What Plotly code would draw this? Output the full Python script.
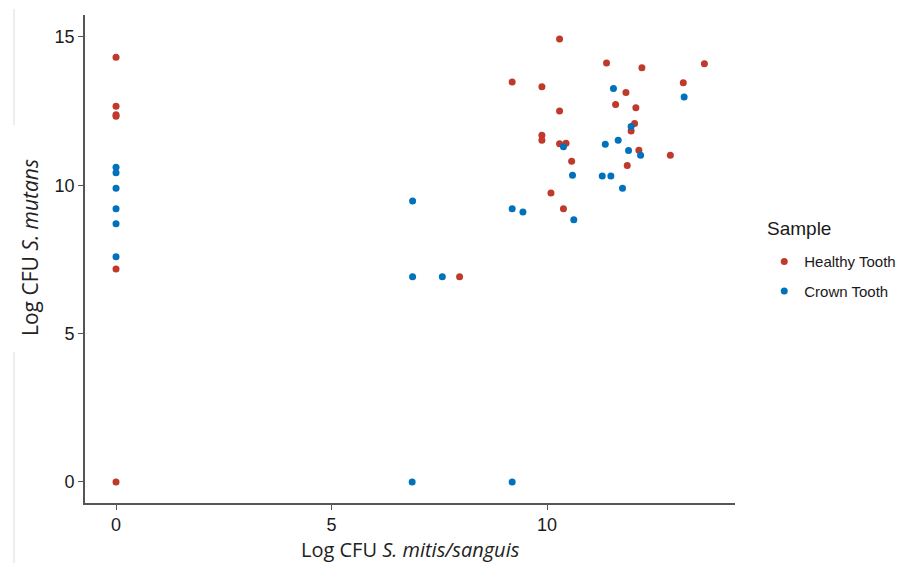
import plotly.graph_objects as go

healthy_x = [0, 0, 0, 0, 0, 0,
             7.97,
             10.29, 11.38, 12.20, 13.65, 9.19, 9.88, 13.16, 11.83, 11.59, 12.06,
             10.29, 12.03, 11.95, 9.88, 9.88, 10.29, 10.44, 12.13, 12.86, 10.57,
             11.86, 10.09, 10.38]
healthy_y = [14.32, 12.66, 12.38, 12.33, 7.18, 0,
             6.92,
             14.93, 14.12, 13.96, 14.10, 13.48, 13.32, 13.46, 13.13, 12.72, 12.61,
             12.50, 12.08, 11.83, 11.69, 11.52, 11.40, 11.42, 11.18, 11.01, 10.81,
             10.67, 9.74, 9.21]

crown_x = [0, 0, 0, 0, 0, 0,
           6.87, 9.19, 6.88, 6.88, 7.57, 9.19, 9.44,
           11.54, 13.18, 11.95, 11.65, 11.35, 10.38, 11.89, 12.17, 10.59, 11.28,
           11.48, 11.75, 10.62]
crown_y = [10.61, 10.42, 9.90, 9.21, 8.70, 7.59,
           0, 0, 9.47, 6.92, 6.92, 9.21, 9.10,
           13.26, 12.98, 11.98, 11.52, 11.38, 11.30, 11.17, 11.01, 10.34, 10.31,
           10.31, 9.90, 8.84]

x_ticks = [0, 5, 10]
y_ticks = [0, 5, 10, 15]

RED = "#C0392B"
BLUE = "#0072BD"

fig = go.Figure()
fig.add_trace(go.Scatter(x=healthy_x, y=healthy_y, mode="markers", name="Healthy Tooth",
                         legendgroup="h",
                         marker=dict(color=RED, size=7, line=dict(width=0))))
fig.add_trace(go.Scatter(x=crown_x, y=crown_y, mode="markers", name="Crown Tooth",
                         legendgroup="c",
                         marker=dict(color=BLUE, size=7, line=dict(width=0))))

axis_common = dict(showgrid=False, zeroline=False, showline=True, linecolor="#555555",
                   linewidth=1.6, ticks="outside", ticklen=5, tickwidth=1.3, tickcolor="#555555",
                   tickfont=dict(family="Liberation Sans, Arial, sans-serif", size=18, color="#1a1a1a"))

# page body has an 8px margin, so the figure is offset by (8, 8) on screen
fig.update_layout(
    width=908, height=563,
    paper_bgcolor="white", plot_bgcolor="white",
    margin=dict(l=77, r=181, t=7, b=68),
    xaxis=dict(range=[-0.72, 14.36], tickvals=x_ticks, **axis_common),
    yaxis=dict(range=[-0.71, 15.74], tickvals=y_ticks, **axis_common),
    legend=dict(x=1.045, y=0.528, xanchor="left", yanchor="top",
                font=dict(family="Liberation Sans, Arial, sans-serif", size=15, color="#1a1a1a"),
                tracegroupgap=7),
    showlegend=True,
)

fig.add_annotation(text="Log CFU <i>S. mitis/sanguis</i>", xref="paper", yref="paper",
                   x=(411 - 85) / 650, y=(503 - 549) / 488, xanchor="center", yanchor="middle",
                   showarrow=False, font=dict(family="Open Sans, sans-serif", size=20, color="#222222"))
fig.add_annotation(text="Log CFU <i>S. mutans</i>", xref="paper", yref="paper",
                   x=(30 - 85) / 650, y=(503 - 248) / 488, xanchor="center", yanchor="middle",
                   textangle=-90, showarrow=False,
                   font=dict(family="Open Sans, sans-serif", size=21, color="#222222"))
fig.add_annotation(text="Sample", xref="paper", yref="paper",
                   x=(765 - 85) / 650, y=(503 - 228) / 488, xanchor="left", yanchor="middle",
                   showarrow=False,
                   font=dict(family="Liberation Sans, Arial, sans-serif", size=19, color="#1a1a1a"))

lx = (6 - 77) / 650
fig.add_shape(type="line", xref="paper", yref="paper", x0=lx, x1=lx,
              y0=(495 - 1) / 488, y1=(495 - 117) / 488, line=dict(color="#dddddd", width=1))
fig.add_shape(type="line", xref="paper", yref="paper", x0=lx, x1=lx,
              y0=(495 - 344) / 488, y1=(495 - 560) / 488, line=dict(color="#dddddd", width=1))

fig.write_html("out.html")
